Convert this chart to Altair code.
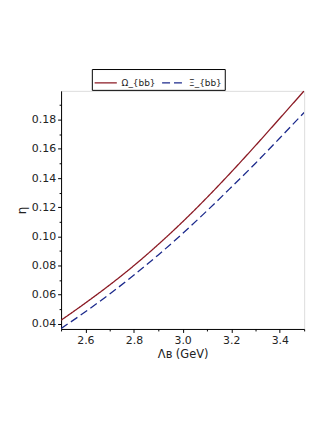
import altair as alt
import pandas as pd

x_vals = [2.5, 2.6, 2.7, 2.8, 2.9, 3.0, 3.1, 3.2, 3.3, 3.4, 3.5]
omega_bb = [0.0425, 0.0543, 0.0667, 0.0800, 0.0945, 0.1100, 0.1266, 0.1441, 0.1623, 0.1810, 0.1998]
xi_bb = [0.0368, 0.0483, 0.0605, 0.0735, 0.0873, 0.1020, 0.1175, 0.1337, 0.1502, 0.1675, 0.1850]
series_names = ["Ω_{bb}", "Ξ_{bb}"]
series_colors = ["#8b1a24", "#1c2a8c"]

x_major = [2.6, 2.8, 3.0, 3.2, 3.4]
x_minor = [2.5, 2.7, 2.9, 3.1, 3.3, 3.5]
y_major = [0.04, 0.06, 0.08, 0.10, 0.12, 0.14, 0.16, 0.18]
y_minor = [0.05, 0.07, 0.09, 0.11, 0.13, 0.15, 0.17, 0.19]

rows = []
for name, vals in zip(series_names, [omega_bb, xi_bb]):
    for xv, yv in zip(x_vals, vals):
        rows.append({"x": xv, "y": yv, "series": name})
df = pd.DataFrame(rows)

xdom = [2.5, 3.5]
ydom = [0.0365, 0.1998]
font = "DejaVu Sans"

xs_major = alt.Scale(domain=xdom, nice=False, zero=False)
ys_major = alt.Scale(domain=ydom, nice=False, zero=False)

lines = alt.Chart(df).mark_line(strokeWidth=1.3, clip=True, interpolate="monotone").encode(
    x=alt.X("x:Q", scale=xs_major, title="Λʙ (GeV)",
            axis=alt.Axis(values=x_major, format=".1f", orient="bottom", tickSize=3.5,
                          labelFontSize=11, titleFontSize=11.5, labelFont=font, titleFont=font,
                          domainColor="black", tickColor="black", labelColor="#222",
                          titleColor="#222", titleFontWeight="normal", grid=False,
                          labelPadding=2, titlePadding=3)),
    y=alt.Y("y:Q", scale=ys_major, title="η",
            axis=alt.Axis(values=y_major, format=".2f", orient="left", tickSize=3.5,
                          labelFontSize=11, titleFontSize=12, labelFont=font, titleFont=font,
                          domainColor="black", tickColor="black", labelColor="#222",
                          titleColor="#222", titleFontWeight="normal", grid=False,
                          labelPadding=2, titlePadding=3)),
    color=alt.Color("series:N", scale=alt.Scale(domain=series_names, range=series_colors),
                    legend=alt.Legend(title=None, orient="none", direction="horizontal",
                                      legendX=31, legendY=-22, symbolType="stroke",
                                      symbolSize=500, symbolStrokeWidth=1.3,
                                      labelFontSize=9, labelFont=font, labelColor="#222",
                                      strokeColor="black", padding=2, columnPadding=3,
                                      symbolOffset=0, labelOffset=4)),
    strokeDash=alt.StrokeDash("series:N",
                              scale=alt.Scale(domain=series_names, range=[[1, 0], [8, 4]]),
                              legend=None),
)

minor = alt.Chart(df).mark_line(opacity=0).encode(
    x=alt.X("x:Q", scale=xs_major, title=None,
            axis=alt.Axis(values=x_minor, labels=False, orient="bottom", tickSize=2,
                          domain=False, tickColor="black", grid=False)),
    y=alt.Y("y:Q", scale=ys_major, title=None,
            axis=alt.Axis(values=y_minor, labels=False, orient="left", tickSize=2,
                          domain=False, tickColor="black", grid=False)),
)

chart = alt.layer(lines, minor).resolve_axis(x="independent", y="independent").properties(
    width=245, height=240,
    autosize=alt.AutoSizeParams(type="none"),
    padding={"left": 53.5, "top": 82, "right": 20, "bottom": 60},
).configure_view(stroke=None).configure(background="white")

chart.save("out.html", embed_options={"renderer": "svg", "actions": False})
